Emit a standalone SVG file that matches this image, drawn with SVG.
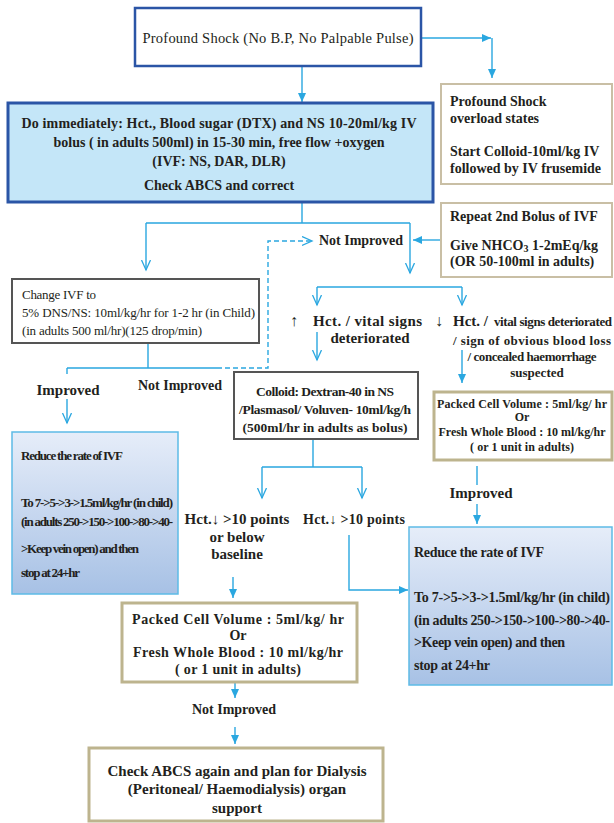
<svg xmlns="http://www.w3.org/2000/svg" width="614" height="823" viewBox="0 0 614 823">
<defs>
<marker id="af" markerUnits="userSpaceOnUse" markerWidth="10" markerHeight="10" refX="9" refY="4" orient="auto"><path d="M0,0 L9,4 L0,8 z" fill="#2aa7e0"/></marker>
<marker id="ao" markerUnits="userSpaceOnUse" markerWidth="12" markerHeight="12" refX="10" refY="5" orient="auto"><path d="M0,0.5 L10,5 L0,9.5" fill="none" stroke="#2aa7e0" stroke-width="1.3"/></marker>
<linearGradient id="gb" x1="0" y1="0" x2="0" y2="1"><stop offset="0" stop-color="#e6edf9"/><stop offset="1" stop-color="#a7c1e5"/></linearGradient>
</defs>
<style>
text{font-family:"Liberation Serif","Times New Roman",serif;fill:#231f20}
.b{font-weight:bold}
.m{text-anchor:middle}
.c{stroke:#2aa7e0;stroke-width:1.4;fill:none}
.d{stroke-dasharray:5,3}
.tan{fill:#fff;stroke:#c9bfa5;stroke-width:2}
.tan2{fill:#fff;stroke:#bdb48e;stroke-width:3}
.gr{fill:#fff;stroke:#555;stroke-width:2}
.rb{fill:url(#gb);stroke:#5dbbe6;stroke-width:1.5}
</style>

<g id="connectors">
<path class="c" d="M421,38 H491" marker-end="url(#af)"/>
<path class="c" d="M492,38 V78" marker-end="url(#af)"/>
<path class="c" d="M302,66 V102" marker-end="url(#af)"/>
<path class="c" d="M302,203 V223 M146,223 H410"/>
<path class="c" d="M146,223 V270" marker-end="url(#ao)"/>
<path class="c" d="M410,223 V273" marker-end="url(#ao)"/>
<path class="c" d="M441,240 H413" marker-end="url(#af)"/>
<path class="c d" d="M217,368 H268 V241 H312" marker-end="url(#ao)"/>
<path class="c" d="M148,343 V368 M67,368 H217 M67,368 V374"/>
<path class="c" d="M67,399 V423" marker-end="url(#ao)"/>
<path class="c" d="M317,287 H462"/>
<path class="c" d="M317,287 V305" marker-end="url(#ao)"/>
<path class="c" d="M462,287 V305" marker-end="url(#ao)"/>
<path class="c" d="M317,332 V360" marker-end="url(#ao)"/>
<path class="c" d="M462,350 V383" marker-end="url(#af)"/>
<path class="c" d="M313,439 V467 M262,467 H362"/>
<path class="c" d="M262,467 V498" marker-end="url(#ao)"/>
<path class="c" d="M362,467 V498" marker-end="url(#ao)"/>
<path class="c" d="M477,466 V485"/>
<path class="c" d="M477,504 V524" marker-end="url(#af)"/>
<path class="c" d="M349,535 V590 H408" marker-end="url(#af)"/>
<path class="c" d="M233,577 V598" marker-end="url(#af)"/>
<path class="c" d="M235,682 V698" marker-end="url(#af)"/>
<path class="c" d="M235,727 V744" marker-end="url(#af)"/>
</g>

<g id="n-shock">
<rect x="135" y="8" width="286" height="58" fill="#fff" stroke="#2b55a6" stroke-width="2.5"/>
<text class="m" x="278" y="43" font-size="14.5" textLength="271">Profound Shock (No B.P, No Palpable Pulse)</text>
</g>

<g id="n-immediate">
<rect x="8" y="103" width="425" height="99" fill="#c4e6f8" stroke="#2b55a6" stroke-width="3"/>
<text class="b m" x="219" y="128" font-size="14" textLength="395">Do immediately: Hct., Blood sugar (DTX) and NS 10-20ml/kg IV</text>
<text class="b m" x="219" y="147" font-size="14">bolus ( in adults 500ml) in 15-30 min, free flow +oxygen</text>
<text class="b m" x="219" y="166" font-size="14">(IVF: NS, DAR, DLR)</text>
<text class="b m" x="219" y="190" font-size="14">Check ABCS and correct</text>
</g>

<g id="n-overload">
<rect x="441" y="84" width="171" height="100" class="tan"/>
<text class="b" x="450" y="106" font-size="14">Profound Shock</text>
<text class="b" x="450" y="123" font-size="14">overload states</text>
<text class="b" x="450" y="156" font-size="14">Start Colloid-10ml/kg IV</text>
<text class="b" x="450" y="173" font-size="14">followed by IV frusemide</text>
</g>

<g id="n-repeat">
<rect x="441" y="203" width="171" height="74" class="tan"/>
<text class="b" x="450" y="221" font-size="14">Repeat 2nd Bolus of IVF</text>
<text class="b" x="450" y="250" font-size="14">Give NHCO<tspan font-size="10" dy="2">3</tspan><tspan dy="-2"> 1-2mEq/kg</tspan></text>
<text class="b" x="450" y="266" font-size="14">(OR 50-100ml in adults)</text>
</g>

<g id="n-notimproved1">
<text class="b m" x="361" y="245" font-size="14">Not Improved</text>
</g>

<g id="n-change">
<rect x="12" y="279" width="247" height="64" class="gr"/>
<text x="22" y="299" font-size="13" textLength="74">Change IVF to</text>
<text x="22" y="317" font-size="13" textLength="233">5% DNS/NS: 10ml/kg/hr for 1-2 hr (in Child)</text>
<text x="22" y="335" font-size="13" textLength="180">(in adults 500 ml/hr)(125 drop/min)</text>
</g>

<g id="n-hct-up">
<text x="290" y="326" font-size="16">↑</text>
<text class="b" x="313" y="326" font-size="15" textLength="109">Hct. / vital signs</text>
<text class="b m" x="370" y="343" font-size="15">deteriorated</text>
</g>

<g id="n-hct-down">
<text x="435" y="326" font-size="16">↓</text>
<text class="b" x="453" y="326" font-size="15">Hct. /</text>
<text class="b" x="494" y="326" font-size="13" textLength="118">vital signs deteriorated</text>
<text class="b m" x="532" y="345" font-size="13" textLength="158">/ sign of obvious blood loss</text>
<text class="b m" x="532" y="361" font-size="13" textLength="129">/ concealed haemorrhage</text>
<text class="b m" x="537" y="377" font-size="13">suspected</text>
</g>

<g id="n-improved-left">
<text class="b m" x="68" y="395" font-size="15">Improved</text>
</g>
<g id="n-notimproved2">
<text class="b m" x="180" y="390" font-size="14">Not Improved</text>
</g>

<g id="n-colloid">
<rect x="234" y="372" width="184" height="67" class="gr"/>
<text class="b m" x="325" y="396" font-size="13.5" textLength="138">Colloid: Dextran-40 in NS</text>
<text class="b m" x="325" y="414" font-size="13.5" textLength="172">/Plasmasol/ Voluven- 10ml/kg/h</text>
<text class="b m" x="325" y="432" font-size="13.5" textLength="165">(500ml/hr in adults as bolus)</text>
</g>

<g id="n-pcv-right">
<rect x="434" y="392" width="178" height="68" class="tan2"/>
<text class="b m" x="522" y="408" font-size="12" textLength="170">Packed Cell Volume :  5ml/kg/ hr</text>
<text class="b m" x="522" y="421" font-size="12">Or</text>
<text class="b m" x="522" y="436" font-size="12" textLength="167">Fresh Whole Blood : 10 ml/kg/hr</text>
<text class="b m" x="522" y="451" font-size="12" textLength="104">( or 1 unit in adults)</text>
</g>

<g id="n-reduce-left">
<rect x="12" y="432" width="166" height="162" class="rb"/>
<text class="b" x="21" y="460" font-size="13" textLength="102">Reduce the rate of IVF</text>
<text class="b" x="21" y="507" font-size="13" textLength="152">To 7-&gt;5-&gt;3-&gt;1.5ml/kg/hr (in child)</text>
<text class="b" x="21" y="526" font-size="13" textLength="152">(in adults 250-&gt;150-&gt;100-&gt;80-&gt;40-</text>
<text class="b" x="21" y="553" font-size="13" textLength="118">&gt;Keep vein open) and then</text>
<text class="b" x="21" y="577" font-size="13" textLength="59">stop at 24+hr</text>
</g>

<g id="n-improved-right">
<text class="b m" x="481" y="498" font-size="15">Improved</text>
</g>

<g id="n-hct10-left">
<text class="b m" x="237" y="524" font-size="15">Hct.↓ &gt;10 points</text>
<text class="b m" x="237" y="542" font-size="15">or below</text>
<text class="b m" x="237" y="559" font-size="15">baseline</text>
</g>
<g id="n-hct10-right">
<text class="b m" x="354" y="524" font-size="14" textLength="102">Hct.↓ &gt;10 points</text>
</g>

<g id="n-reduce-right">
<rect x="409" y="527" width="203" height="158" class="rb"/>
<text class="b" x="414" y="557" font-size="14" textLength="130">Reduce the rate of IVF</text>
<text class="b" x="414" y="602" font-size="14" textLength="196">To 7-&gt;5-&gt;3-&gt;1.5ml/kg/hr (in child)</text>
<text class="b" x="414" y="625" font-size="14" textLength="196">(in adults 250-&gt;150-&gt;100-&gt;80-&gt;40-</text>
<text class="b" x="414" y="647" font-size="14" textLength="151">&gt;Keep vein open) and then</text>
<text class="b" x="414" y="670" font-size="14" textLength="76">stop at 24+hr</text>
</g>

<g id="n-pcv-bottom">
<rect x="122" y="603" width="235" height="79" class="tan2"/>
<text class="b m" x="238" y="624" font-size="14" textLength="212">Packed Cell Volume :  5ml/kg/ hr</text>
<text class="b m" x="238" y="640" font-size="14">Or</text>
<text class="b m" x="238" y="657" font-size="14" textLength="210">Fresh Whole Blood : 10 ml/kg/hr</text>
<text class="b m" x="238" y="674" font-size="14" textLength="126">( or 1 unit in adults)</text>
</g>

<g id="n-notimproved3">
<text class="b m" x="234" y="714" font-size="14">Not Improved</text>
</g>

<g id="n-dialysis">
<rect x="89" y="748" width="294" height="73" class="tan2"/>
<text class="b m" x="237" y="776" font-size="15">Check ABCS again and plan for Dialysis</text>
<text class="b m" x="237" y="794" font-size="15">(Peritoneal/ Haemodialysis) organ</text>
<text class="b m" x="237" y="813" font-size="15">support</text>
</g>
</svg>
